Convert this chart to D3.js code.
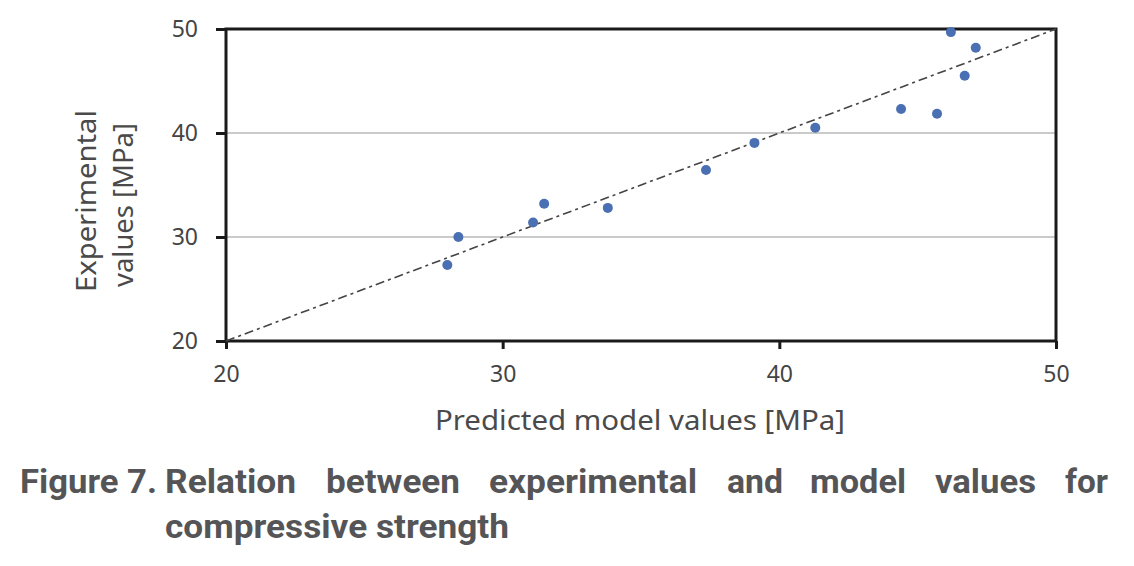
<!DOCTYPE html>
<html><head><meta charset="utf-8">
<script src="https://cdn.jsdelivr.net/npm/d3@7"></script>
<style>body{margin:0;background:#fff}svg{display:block}</style>
</head><body>
<svg id="c" width="1134" height="566"></svg>
<script>
const predicted = [28.0, 28.4, 31.1, 31.5, 33.8, 37.35, 39.1, 41.3, 44.4, 45.7, 46.2, 46.7, 47.1];
const experimental = [27.3, 30.0, 31.4, 33.2, 32.8, 36.45, 39.05, 40.5, 42.3, 41.85, 49.7, 45.5, 48.2];
const xTicks = [20, 30, 40, 50];
const yTicks = [20, 30, 40, 50];
const gridValues = [30, 40];
const lineEnds = [20, 50];
const xTitle = "Predicted model values [MPa]";
const yTitle = ["Experimental", "values [MPa]"];
const captionLabel = "Figure 7.";
const captionLine1 = ["Relation", "between", "experimental", "and", "model", "values", "for"];
const captionLine2 = "compressive strength";

const svg = d3.select("#c");
const x = d3.scaleLinear().domain([20, 50]).range([226, 1056]);
const y = d3.scaleLinear().domain([20, 50]).range([341, 29]);
const tickFont = "'Noto Sans', sans-serif";
const grey = "#4d4d4d";

// gridlines
svg.append("g").selectAll("line").data(gridValues).join("line")
  .attr("x1", x(20)).attr("x2", x(50))
  .attr("y1", d => y(d)).attr("y2", d => y(d))
  .attr("stroke", "#b8b8b8").attr("stroke-width", 1.5);

// frame
svg.append("rect").attr("x", x(20)).attr("y", y(50))
  .attr("width", x(50) - x(20)).attr("height", y(20) - y(50))
  .attr("fill", "none").attr("stroke", "#1a1a1a").attr("stroke-width", 3);

// axes
const yAxis = d3.axisLeft(y).tickValues(yTicks).tickSize(10).tickPadding(18).tickFormat(d3.format("d"));
const gy = svg.append("g").attr("transform", `translate(${x(20)},0)`).call(yAxis);
const xAxis = d3.axisBottom(x).tickValues(xTicks).tickSize(8).tickPadding(17).tickFormat(d3.format("d"));
const gx = svg.append("g").attr("transform", `translate(0,${y(20)})`).call(xAxis);
[gx, gy].forEach(g => {
  g.select(".domain").remove();
  g.selectAll(".tick line").attr("stroke", "#1a1a1a").attr("stroke-width", 3);
  g.selectAll(".tick text").attr("fill", "#444").style("font-family", tickFont).style("font-size", "23px");
});

// 1:1 reference line
svg.append("line")
  .attr("x1", x(lineEnds[0])).attr("y1", y(lineEnds[0]))
  .attr("x2", x(lineEnds[1])).attr("y2", y(lineEnds[1]))
  .attr("stroke", "#444").attr("stroke-width", 1.6)
  .attr("stroke-dasharray", "9 4 3 4");

// points
svg.append("g").selectAll("circle").data(predicted).join("circle")
  .attr("cx", d => x(d)).attr("cy", (d, i) => y(experimental[i]))
  .attr("r", 5).attr("fill", "#4a70b3");

// axis titles
svg.append("text").attr("x", 640).attr("y", 430).attr("text-anchor", "middle")
  .attr("textLength", 410).attr("lengthAdjust", "spacingAndGlyphs")
  .style("font-family", tickFont).style("font-size", "28px").attr("fill", "#4a4a4a").text(xTitle);
const ytX = [96, 133], ytLen = [182, 164], ytC = [201, 205];
yTitle.forEach((t, i) => {
  svg.append("text").attr("transform", `translate(${ytX[i]},${ytC[i]}) rotate(-90)`)
    .attr("text-anchor", "middle").attr("textLength", ytLen[i]).attr("lengthAdjust", "spacingAndGlyphs")
    .style("font-family", tickFont).style("font-size", "27px").attr("fill", "#4a4a4a").text(t);
});

// caption
const capFont = "Roboto, sans-serif";
const cap = svg.append("g").style("font-family", capFont).style("font-weight", "bold")
  .style("font-size", "33px").attr("fill", "#555557");
cap.append("text").attr("x", 20).attr("y", 493).attr("textLength", 137)
  .attr("lengthAdjust", "spacingAndGlyphs").text(captionLabel);
const wordStarts = [165, 326, 489, 727, 810, 935, 1065];
const wordEnds = [296, 460, 697, 783, 906, 1036, 1108];
captionLine1.forEach((w, i) => {
  cap.append("text").attr("x", wordStarts[i]).attr("y", 493)
    .attr("textLength", wordEnds[i] - wordStarts[i]).attr("lengthAdjust", "spacingAndGlyphs").text(w);
});
cap.append("text").attr("x", 165).attr("y", 538).attr("textLength", 344)
  .attr("lengthAdjust", "spacingAndGlyphs").text(captionLine2);
</script>
</body></html>
